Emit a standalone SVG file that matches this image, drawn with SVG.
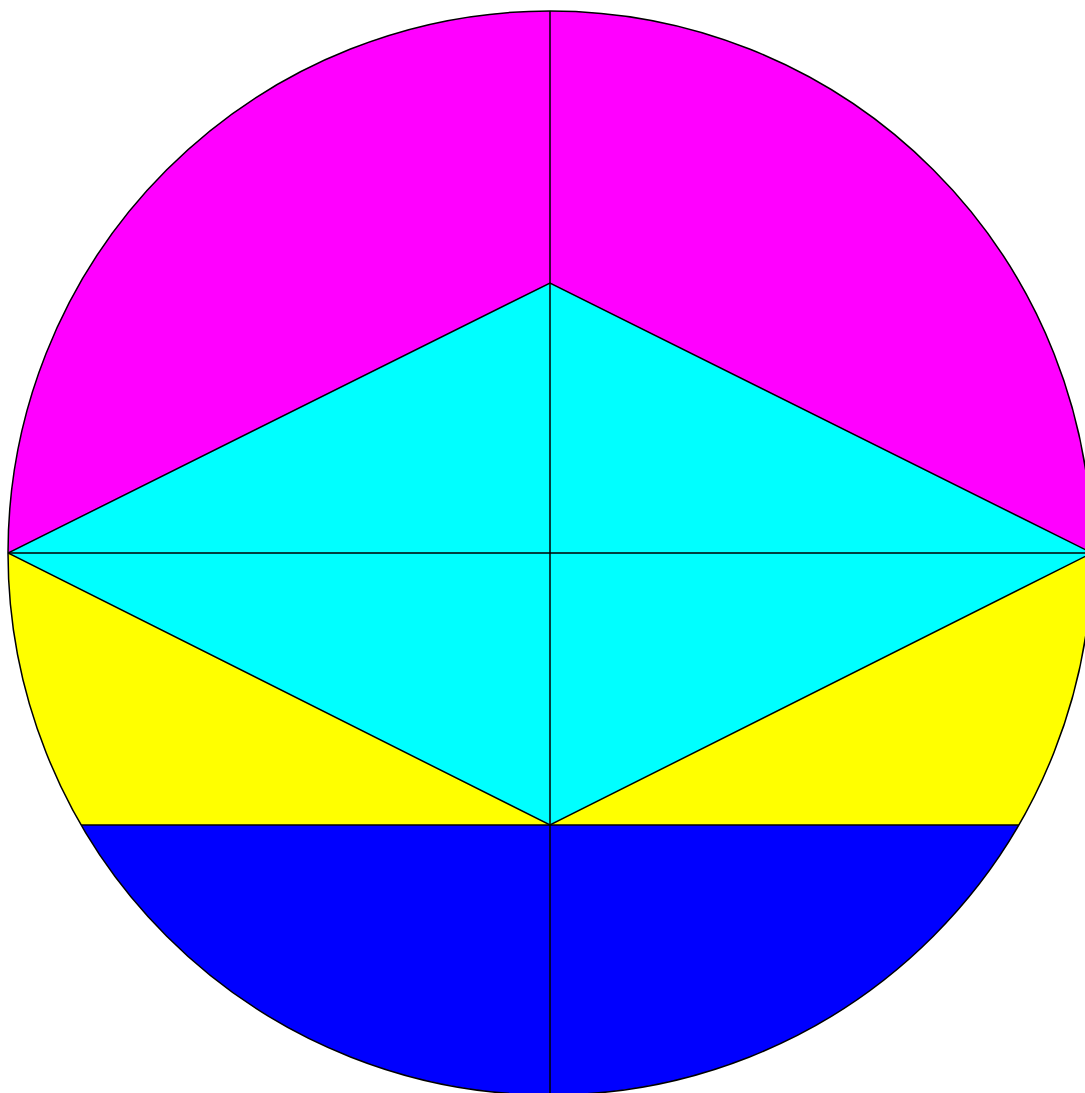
<svg xmlns="http://www.w3.org/2000/svg" width="1085" height="1093" viewBox="0 0 1085 1093">
<style>
.ln{stroke:#000;stroke-width:1.5;fill:none}
</style>
<defs>
<clipPath id="c"><circle cx="550" cy="553" r="542"/></clipPath>
</defs>
<rect width="1085" height="1093" fill="#fff"/>
<g clip-path="url(#c)">
<rect x="0" y="0" width="1100" height="553" fill="#ff00ff"/>
<rect x="0" y="553" width="1100" height="272" fill="#ffff00"/>
<rect x="0" y="825" width="1100" height="300" fill="#0000ff"/>
<polygon points="550,283 1092,553 550,825 8,553" fill="#00ffff"/>
<g class="ln">
<polyline points="8,553 550,283 1092,553 550,825 8,553"/>
<line x1="8" y1="553" x2="1092" y2="553"/>
<line x1="550" y1="0" x2="550" y2="1100"/>
<line x1="0" y1="825" x2="1100" y2="825"/>
</g>
</g>
<circle cx="550" cy="553" r="542" class="ln"/>
</svg>
